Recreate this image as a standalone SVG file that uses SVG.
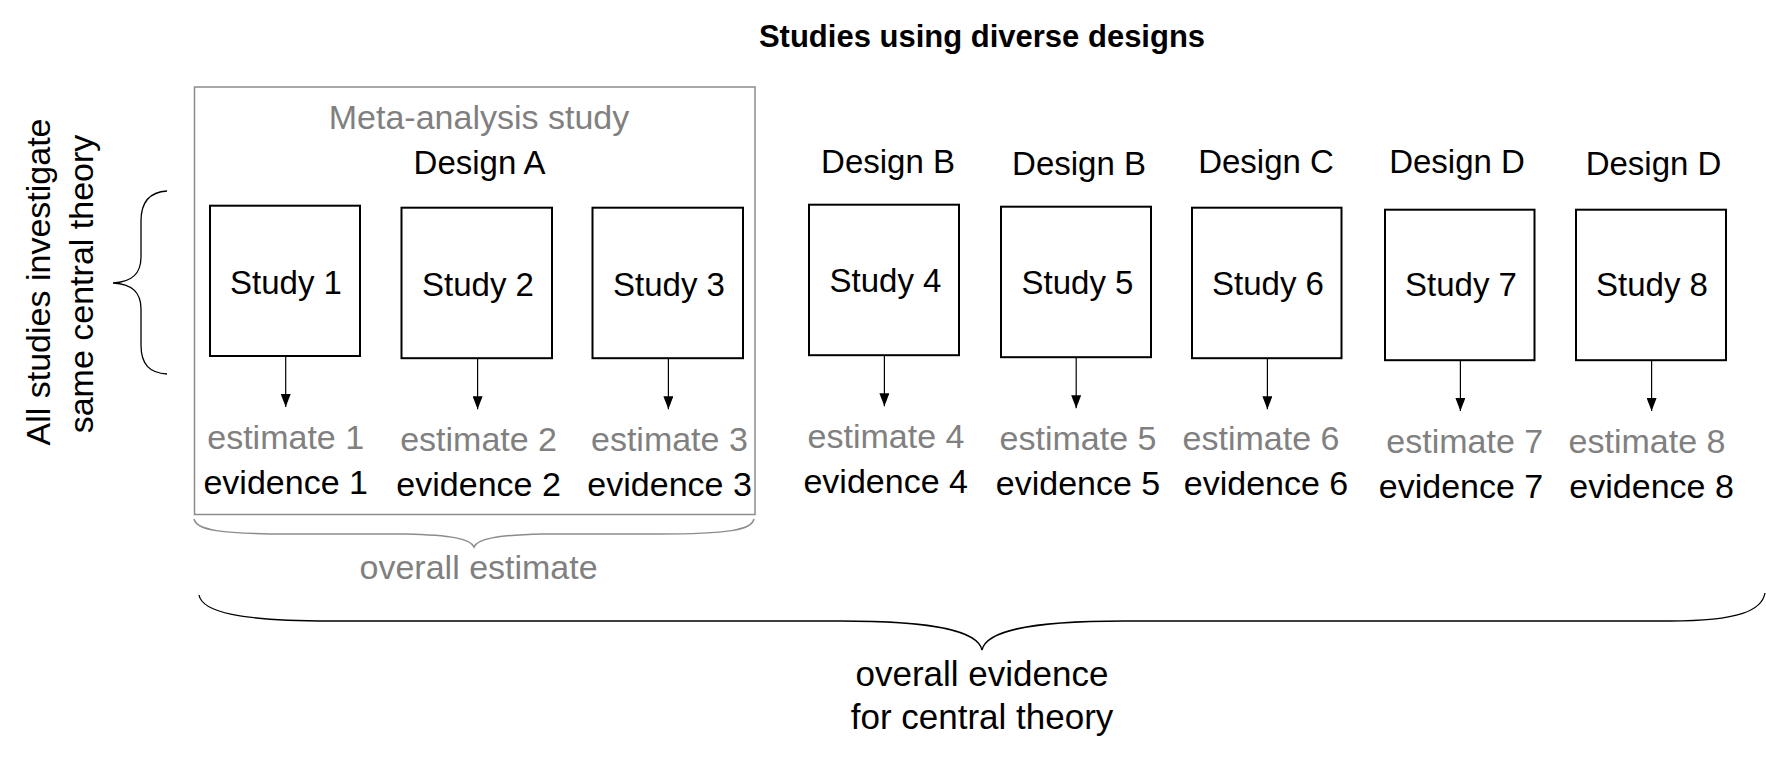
<svg xmlns="http://www.w3.org/2000/svg" width="1766" height="763" viewBox="0 0 1766 763">
<style>
text{font-family:"Liberation Sans",Arial,sans-serif;text-anchor:middle;fill:#000}
.t{font-size:33px}
.m{font-size:34px}
.e{font-size:34px;fill:#808080}
.v{font-size:34px}
.b{font-size:35px}
.g{fill:#808080}
.box{fill:#fff;stroke:#000;stroke-width:2}
.arr{stroke:#000;stroke-width:1.2;fill:none;marker-end:url(#ah)}
.brace{fill:none;stroke:#000;stroke-width:1.3}
.gbrace{fill:none;stroke:#8c8c8c;stroke-width:1.5}
</style>
<defs>
<marker id="ah" viewBox="0 0 13 10" markerWidth="13" markerHeight="10" refX="13" refY="5" orient="auto" markerUnits="userSpaceOnUse">
<path d="M0,0 L13,5 L0,10 z" fill="#000"/>
</marker>
</defs>
<rect width="1766" height="763" fill="#fff"/>

<g id="title"><text x="982" y="47" style="font-size:31px;font-weight:bold">Studies using diverse designs</text></g>

<g id="side-label">
<text class="v" transform="translate(49.5,282) rotate(-90)">All studies investigate</text>
<text class="v" transform="translate(93,284) rotate(-90)">same central theory</text>
<path class="brace" d="M167,191 C150,192 141,201 141,221 L141,257 C141,274 132,282 113,283 C132,284 141,292 141,309 L141,345 C141,365 150,373 167,374"/>
</g>

<g id="meta-analysis">
<rect x="194.5" y="87" width="560.5" height="427.5" fill="none" stroke="#8c8c8c" stroke-width="1.5"/>
<text class="m g" x="479" y="129">Meta-analysis study</text>
<path class="gbrace" d="M194,519 C196,530 220,534 290,534 L405,534 C452,535 471,539 474,547 C477,539 496,535 543,534 L658,534 C728,534 752,530 754,519"/>
<text class="m g" x="478.6" y="578.5">overall estimate</text>
</g>

<g id="designs">
<text class="t" x="479.6" y="174">Design A</text>
<text class="t" x="888" y="173.3">Design B</text>
<text class="t" x="1079" y="175">Design B</text>
<text class="t" x="1266" y="173.3">Design C</text>
<text class="t" x="1457" y="173.3">Design D</text>
<text class="t" x="1653.5" y="175">Design D</text>
</g>

<g id="study1"><rect class="box" x="210" y="205.7" width="150" height="150.3"/><text class="t" x="286" y="294">Study 1</text></g>
<g id="study2"><rect class="box" x="401.5" y="207.7" width="150.5" height="150.5"/><text class="t" x="478" y="295.5">Study 2</text></g>
<g id="study3"><rect class="box" x="592.5" y="207.7" width="150.5" height="150.5"/><text class="t" x="669" y="295.5">Study 3</text></g>
<g id="study4"><rect class="box" x="809" y="204.7" width="150" height="150.5"/><text class="t" x="885.5" y="292">Study 4</text></g>
<g id="study5"><rect class="box" x="1001" y="206.7" width="150" height="150.5"/><text class="t" x="1077.5" y="293.5">Study 5</text></g>
<g id="study6"><rect class="box" x="1192" y="207.7" width="149.5" height="150.5"/><text class="t" x="1268" y="294.5">Study 6</text></g>
<g id="study7"><rect class="box" x="1385" y="209.7" width="149.5" height="150.5"/><text class="t" x="1461" y="296">Study 7</text></g>
<g id="study8"><rect class="box" x="1576" y="209.7" width="150" height="150.5"/><text class="t" x="1652" y="295.5">Study 8</text></g>

<g id="connectors">
<line class="arr" x1="285.7" y1="356" x2="285.7" y2="407"/>
<line class="arr" x1="477.6" y1="358.2" x2="477.6" y2="409.3"/>
<line class="arr" x1="668.4" y1="358.2" x2="668.4" y2="409.3"/>
<line class="arr" x1="884.4" y1="355.2" x2="884.4" y2="406.3"/>
<line class="arr" x1="1076.2" y1="357.2" x2="1076.2" y2="408.3"/>
<line class="arr" x1="1267.4" y1="358.2" x2="1267.4" y2="409.3"/>
<line class="arr" x1="1460.4" y1="360.2" x2="1460.4" y2="411"/>
<line class="arr" x1="1651.6" y1="360.2" x2="1651.6" y2="411"/>
</g>

<g id="estimates">
<text class="e" x="285.7" y="449">estimate 1</text>
<text class="e" x="478.6" y="450.7">estimate 2</text>
<text class="e" x="669.4" y="450.7">estimate 3</text>
<text class="e" x="886" y="448.3">estimate 4</text>
<text class="e" x="1078" y="450">estimate 5</text>
<text class="e" x="1261" y="450">estimate 6</text>
<text class="e" x="1464.8" y="452.7">estimate 7</text>
<text class="e" x="1647" y="452.7">estimate 8</text>
</g>

<g id="evidence">
<text class="v" x="285.7" y="494">evidence 1</text>
<text class="v" x="478.6" y="495.7">evidence 2</text>
<text class="v" x="669.6" y="495.7">evidence 3</text>
<text class="v" x="885.7" y="492.7">evidence 4</text>
<text class="v" x="1078" y="495">evidence 5</text>
<text class="v" x="1266" y="495">evidence 6</text>
<text class="v" x="1461" y="497.7">evidence 7</text>
<text class="v" x="1651.6" y="497.7">evidence 8</text>
</g>

<g id="overall-evidence">
<path class="brace" d="M199,595 C202,612 240,621 330,621 L840,621 C940,621 978,632 982,650 C986,632 1024,621 1124,621 L1670,621 C1740,621 1762,610 1765,593"/>
<text class="b" x="982" y="686">overall evidence</text>
<text class="b" x="982" y="729">for central theory</text>
</g>
</svg>
